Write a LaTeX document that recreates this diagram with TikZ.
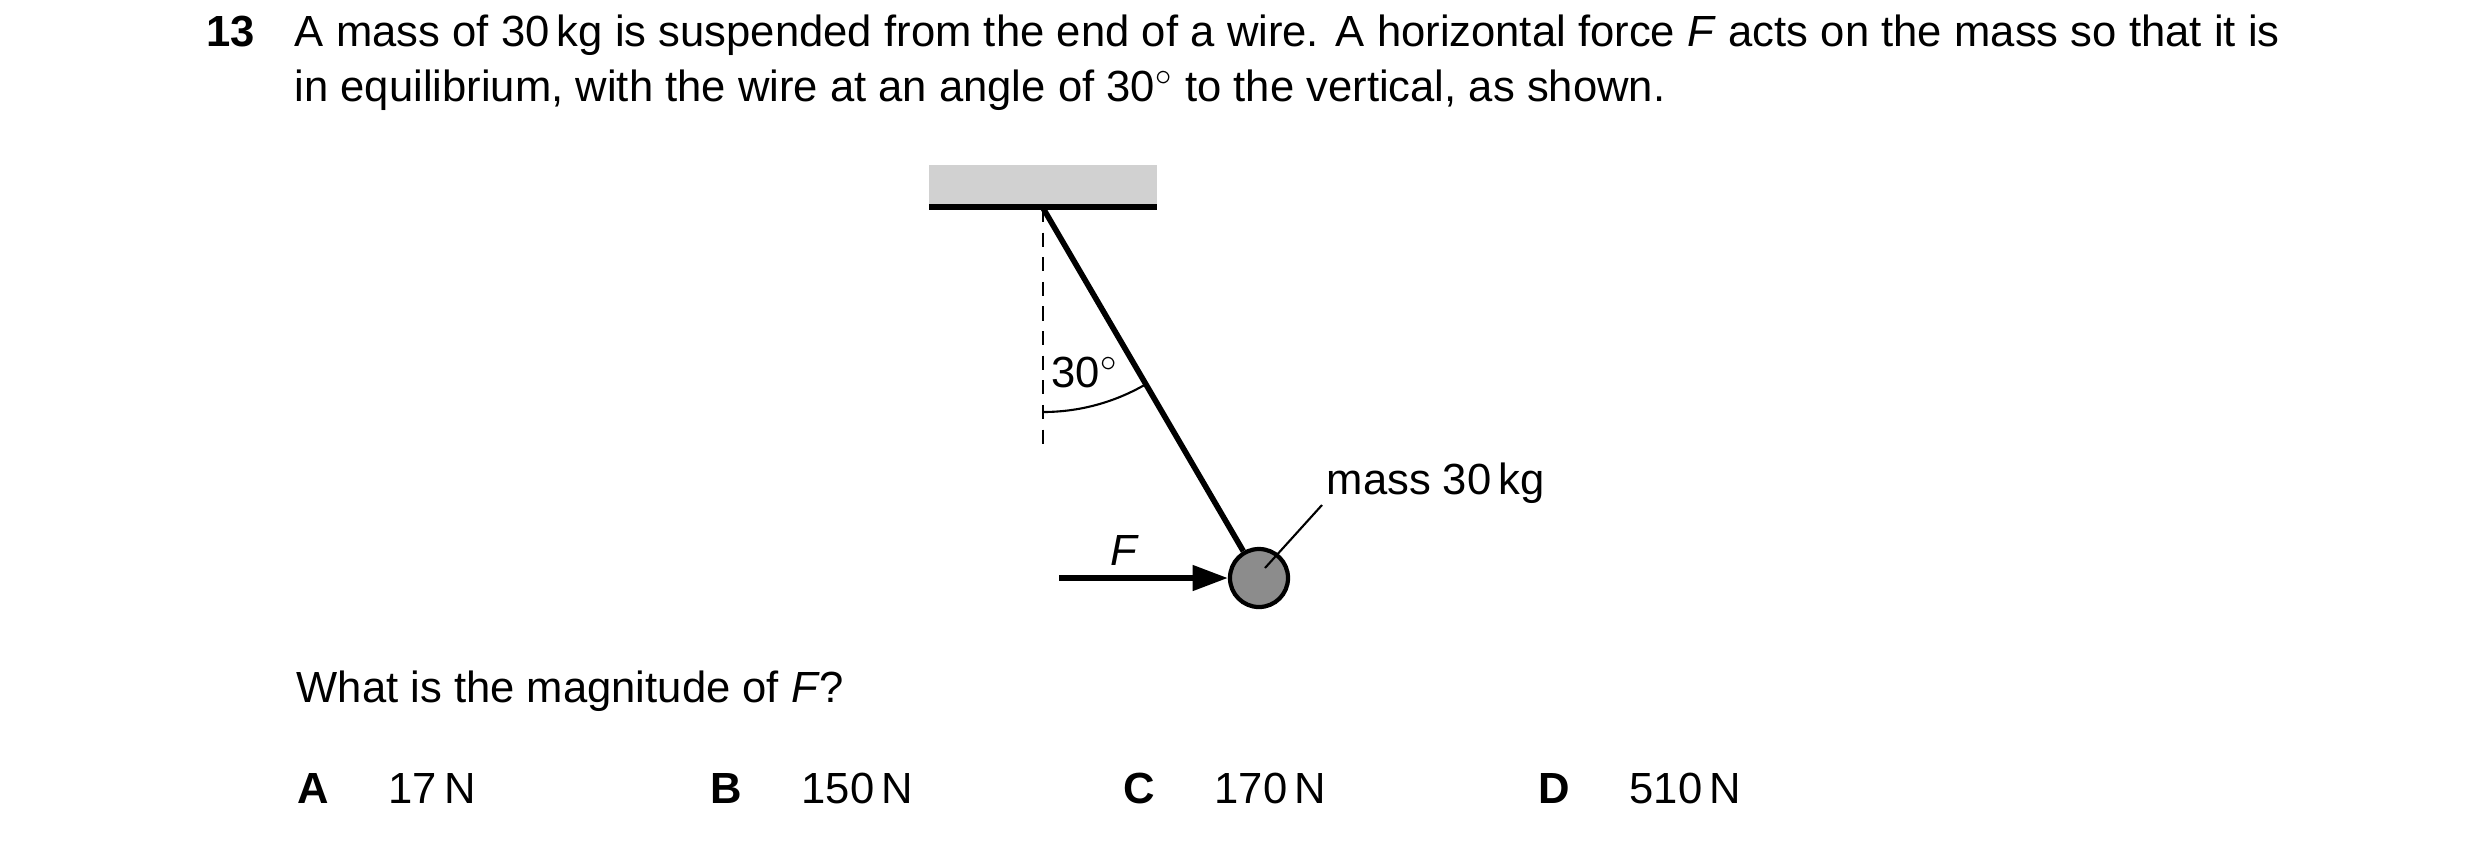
\documentclass[tikz,border=0pt]{standalone}
\usepackage{fontspec}
\setmainfont{Liberation Sans}
\usetikzlibrary{arrows.meta}
\begin{document}
\begin{tikzpicture}[
    x=0.01cm, y=-0.01cm,
    every node/.style={font=\fontsize{12.4}{15.6}\selectfont, inner sep=0pt},
    % Styles
    wire/.style={line width=1.6pt},
    guide/.style={dashed, line width=0.5pt, dash pattern=on 4pt off 3pt},
    force/.style={line width=1.6pt, -{Triangle[length=10pt, width=7pt]}},
]
\useasboundingbox (0,0) rectangle (2480,844);

% Question text
\node[font=\fontsize{12.4}{15.6}\selectfont\bfseries, anchor=base west] (num) at (206,46) {13};
\node[anchor=north west, text width=19.84cm, align=justify] (q) at (294,14) {A mass of 30\,kg is suspended from the end of a wire. A horizontal force \textit{F} acts on the mass so that it is in equilibrium, with the wire at an angle of 30$^\circ$ to the vertical, as shown.};

% Ceiling
\fill[black!18] (929,165) rectangle (1157,207);
\coordinate (cl) at (929,207);
\coordinate (cr) at (1157,207);
\draw[wire] (cl) -- (cr);

% Wire and mass
\coordinate (pivot) at (1043,208);
\coordinate (vend) at (1043,450);
\node[circle, draw, line width=1.2pt, fill=black!45, minimum size=0.58cm] (mass) at (1259,578) {};
\draw[guide] (pivot) -- (vend);
\draw[wire] (pivot) -- (mass);
\draw[line width=0.6pt] (1043,412) arc[start angle=90, end angle=60, radius=204];
\node (ang) at (1085,372) {30$^\circ$};

% Force
\coordinate (ftail) at (1059,578);
\draw[force] (ftail) -- (mass.west);
\node (F) at (1125,550) {\textit{F}};

% Mass label
\node[anchor=west] (mlab) at (1326,483) {mass 30\,kg};
\coordinate (lead) at (1265,568);
\draw[line width=0.6pt] (1322,505) -- (lead);

% Question and options
\node[anchor=west] (ask) at (296,691) {What is the magnitude of \textit{F}?};
\foreach \x/\l/\v in {297/A/17, 710/B/150, 1123/C/170, 1538/D/510} {
    \node[anchor=west, font=\fontsize{12.4}{15.6}\selectfont\bfseries] (opt\l) at (\x,788) {\l};
    \node[anchor=west] (val\l) at (\x+91,788) {\v\,N};
}
\end{tikzpicture}
\end{document}
